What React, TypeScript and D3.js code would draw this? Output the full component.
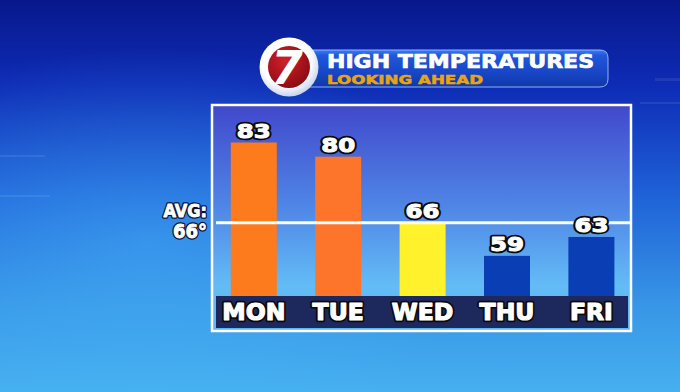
import React from "react";
import * as d3 from "d3";

const days = ["MON", "TUE", "WED", "THU", "FRI"];
const highs = [83, 80, 66, 59, 63];
const barColors = ["#fd7b1c", "#fc752a", "#fff22c", "#0a3eb4", "#0a3eb4"];
const avgTemp = 66;
const titleText = "HIGH TEMPERATURES";
const subtitleText = "LOOKING AHEAD";
const avgLabel = "AVG:";

const W = 680;
const H = 392;

type OTProps = {
  x: number; y: number; text: string; size: number; family: string;
  anchor?: "start" | "middle" | "end"; outline?: string; ow?: number; bold?: number; len?: number;
};

function OutlinedText({ x, y, text, size, family, anchor = "middle", outline = "#0a0a0a", ow = 4, bold = 1, len }: OTProps) {
  const common: any = {
    x, y, textAnchor: anchor, fontFamily: family, fontWeight: 700, fontSize: size, strokeLinejoin: "round",
  };
  if (len) { common.textLength = len; common.lengthAdjust = "spacingAndGlyphs"; }
  return (
    <g>
      <text {...common} fill={outline} stroke={outline} strokeWidth={ow + bold}>{text}</text>
      <text {...common} fill="#ffffff" stroke="#ffffff" strokeWidth={bold}>{text}</text>
    </g>
  );
}

export default function App() {
  const plotBottom = 296;
  const x = d3.scalePoint<string>().domain(days).range([211.6, 633.6]).padding(0.5);
  const y = d3.scaleLinear().domain([50.5, 83]).range([plotBottom, plotBottom - 153.5]);
  const barW = 46;
  const big = "'DejaVu Sans', 'Liberation Sans', sans-serif";
  const narrow = "'Liberation Sans Narrow', 'DejaVu Sans Condensed', 'DejaVu Sans', sans-serif";

  return (
    <svg width={W} height={H} style={{ position: "absolute", left: 0, top: 0, display: "block" }}>
      <defs>
        <linearGradient id="bg" x1="0" y1="0" x2="0" y2="1">
          <stop offset="0" stopColor="#08188c" />
          <stop offset="0.22" stopColor="#0e2cb6" />
          <stop offset="0.5" stopColor="#1f62d8" />
          <stop offset="0.78" stopColor="#3896e6" />
          <stop offset="1" stopColor="#46b0f0" />
        </linearGradient>
        <radialGradient id="glow" cx="0.22" cy="0.62" r="0.5">
          <stop offset="0" stopColor="#4cc0ff" stopOpacity="0.4" />
          <stop offset="1" stopColor="#4cc0ff" stopOpacity="0" />
        </radialGradient>
        <linearGradient id="plotbg" x1="0" y1="0" x2="0" y2="1">
          <stop offset="0" stopColor="#4148cc" />
          <stop offset="0.45" stopColor="#4f86e6" />
          <stop offset="0.8" stopColor="#63bcf6" />
          <stop offset="1" stopColor="#60b4f2" />
        </linearGradient>
        <linearGradient id="banner" x1="0" y1="0" x2="0" y2="1">
          <stop offset="0" stopColor="#3d7cf0" />
          <stop offset="0.15" stopColor="#1f58dc" />
          <stop offset="0.6" stopColor="#1846c6" />
          <stop offset="1" stopColor="#1038a8" />
        </linearGradient>
        <radialGradient id="red" cx="0.4" cy="0.35" r="0.7">
          <stop offset="0" stopColor="#d0202a" />
          <stop offset="1" stopColor="#8a0a12" />
        </radialGradient>
        <radialGradient id="ring" cx="0.45" cy="0.4" r="0.6">
          <stop offset="0.7" stopColor="#ffffff" />
          <stop offset="1" stopColor="#c8d4ee" />
        </radialGradient>
      </defs>

      <rect x={0} y={0} width={W} height={H} fill="url(#bg)" />
      <rect x={0} y={0} width={W} height={H} fill="url(#glow)" />
      <g fill="#ffffff" opacity={0.08}>
        <rect x={655} y={78} width={25} height={3} />
        <rect x={640} y={102} width={40} height={2} />
        <rect x={0} y={155} width={45} height={2} />
        <rect x={0} y={195} width={50} height={2} />
      </g>

      {/* Header banner */}
      <path d="M300,50 H600 Q608,50 608,58 V79 Q608,87 600,87 H300 Z" fill="url(#banner)" stroke="#8fb4f4" strokeWidth={1} />
      <circle cx={289} cy={67} r={29.5} fill="url(#ring)" />
      <circle cx={289} cy={67} r={21} fill="url(#red)" />
      <text x={287} y={84} textAnchor="middle" fontFamily={big} fontWeight={700} fontStyle="italic" fontSize={46} fill="#ffffff">7</text>
      <text x={327} y={67.5} fontFamily={big} fontWeight={700} fontSize={19} fill="#ffffff" stroke="#ffffff" strokeWidth={0.7} textLength={267} lengthAdjust="spacingAndGlyphs">{titleText}</text>
      <text x={327} y={83.5} fontFamily={big} fontWeight={700} fontSize={12} fill="#eaa412" stroke="#eaa412" strokeWidth={0.5} textLength={156} lengthAdjust="spacingAndGlyphs">{subtitleText}</text>

      {/* Frame */}
      <rect x={212} y={105} width={419} height={226} fill="url(#plotbg)" stroke="#ffffff" strokeWidth={2.5} />

      {/* Bars */}
      {days.map((d, i) => (
        <rect key={d} x={(x(d) as number) - barW / 2} y={y(highs[i])} width={barW} height={plotBottom - y(highs[i])} fill={barColors[i]} />
      ))}

      {/* Avg line */}
      <line x1={216} x2={630} y1={y(avgTemp)} y2={y(avgTemp)} stroke="#ffffff" strokeWidth={3} />

      {/* Value labels */}
      {days.map((d, i) => (
        <OutlinedText key={d} x={x(d) as number} y={y(highs[i]) - 5} text={String(highs[i])} size={20} family={big} ow={3.5} bold={1} len={34} />
      ))}

      {/* Day band */}
      <rect x={216} y={plotBottom} width={412} height={32} fill="#1d285c" />
      {days.map((d) => (
        <OutlinedText key={d} x={x(d) as number} y={320} text={d} size={23.5} family={big} ow={3.5} bold={1.2} />
      ))}

      {/* AVG label */}
      <OutlinedText x={207} y={216.5} text={avgLabel} size={18} family={narrow} anchor="end" outline="#0a1030" ow={2.5} bold={0.8} />
      <OutlinedText x={207} y={238} text={`${avgTemp}°`} size={20} family={narrow} anchor="end" outline="#0a1030" ow={2.5} bold={0.8} />
    </svg>
  );
}
